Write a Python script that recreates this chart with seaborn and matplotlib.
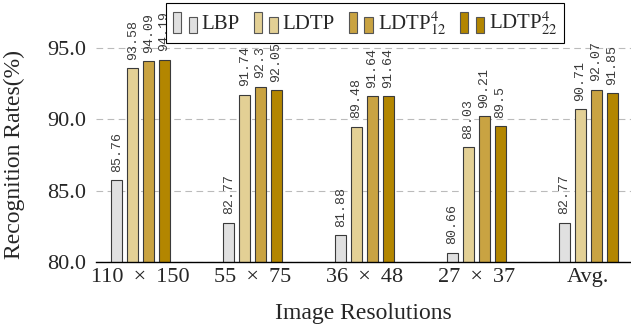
import numpy as np
import pandas as pd
import matplotlib
matplotlib.use("Agg")
import matplotlib.pyplot as plt
import seaborn as sns
from matplotlib.legend_handler import HandlerBase
from matplotlib.patches import Rectangle

# Data
resolutions = ["110 \u2009×\u2009 150", "55 \u2009×\u2009 75", "36 \u2009×\u2009 48",
               "27 \u2009×\u2009 37", "Avg."]
methods = ["LBP", "LDTP", r"LDTP$^4_{12}$", r"LDTP$^4_{22}$"]
lbp = [85.76, 82.77, 81.88, 80.66, 82.77]
ldtp = [93.58, 91.74, 89.48, 88.03, 90.71]
ldtp_12 = [94.09, 92.3, 91.64, 90.21, 92.07]
ldtp_22 = [94.19, 92.05, 91.64, 89.5, 91.85]
colors = ["#e0e0e0", "#e3d095", "#c9a342", "#b38600"]

df = pd.DataFrame({
    "Resolution": resolutions * 4,
    "Method": np.repeat(methods, len(resolutions)),
    "Rate": lbp + ldtp + ldtp_12 + ldtp_22,
})

sns.set_style("white")
plt.rcParams["font.family"] = ["Liberation Serif", "DejaVu Serif"]
plt.rcParams["mathtext.fontset"] = "stix"

fig = plt.figure(figsize=(6.31, 3.28), dpi=100)
ax = fig.add_axes([0.152, 0.201, 0.848, 0.738])

sns.barplot(data=df, x="Resolution", y="Rate", hue="Method", palette=colors,
            width=0.57, gap=0.34, edgecolor="#3a3a3a", linewidth=0.8,
            saturation=1, ax=ax, legend=False, zorder=2)

for cont in ax.containers:
    ax.bar_label(cont, fmt="%g", rotation=90, padding=6, fontsize=9.5,
                 family=["Liberation Mono", "DejaVu Sans Mono"], color="#3a3a3a")

ax.set_ylim(80, 96.96)
ax.set_xlim(-0.4, 4.38)
ax.set_yticks([80, 85, 90, 95])
ax.set_yticklabels(["80.0", "85.0", "90.0", "95.0"])
ax.yaxis.grid(True, linestyle=(0, (6, 4)), color="#bbbbbb", linewidth=0.8)
ax.set_axisbelow(True)
for s in ["top", "right", "left"]:
    ax.spines[s].set_visible(False)
ax.spines["bottom"].set_color("black")
ax.spines["bottom"].set_linewidth(1.0)
ax.spines["bottom"].set_zorder(5)
ax.tick_params(axis="both", direction="in", length=4, color="#aaaaaa",
               labelsize=16)
ax.tick_params(axis="y", pad=7)
ax.tick_params(axis="x", pad=4)
ax.set_xlabel("Image Resolutions", fontsize=17, labelpad=12)
ax.set_ylabel("Recognition Rates(%)", fontsize=17)
ax.yaxis.set_label_coords(-0.133, 0.446)


class TwoBars(HandlerBase):
    def create_artists(self, legend, orig, xd, yd, w, h, fontsize, trans):
        fc = orig.get_facecolor()
        bw = 0.34 * w
        a = Rectangle((xd, yd - 0.25 * h), bw, 1.45 * h,
                      facecolor=fc, edgecolor="#555555", lw=0.8, transform=trans)
        b = Rectangle((xd + w - bw, yd - 0.25 * h), bw, 1.1 * h,
                      facecolor=fc, edgecolor="#555555", lw=0.8, transform=trans)
        return [a, b]


handles = [Rectangle((0, 0), 1, 1, facecolor=c) for c in colors]
leg = fig.legend(handles, methods, loc="upper center", ncol=4,
                 bbox_to_anchor=(0.579, 0.991), fontsize=15, frameon=True,
                 fancybox=False, edgecolor="black", framealpha=1,
                 handler_map={Rectangle: TwoBars()}, handlelength=1.15,
                 handletextpad=0.25, columnspacing=0.65, borderpad=0.3,
                 borderaxespad=0)
leg.get_frame().set_linewidth(0.8)
leg.set_zorder(10)

fig.savefig("out.png", dpi=100)
